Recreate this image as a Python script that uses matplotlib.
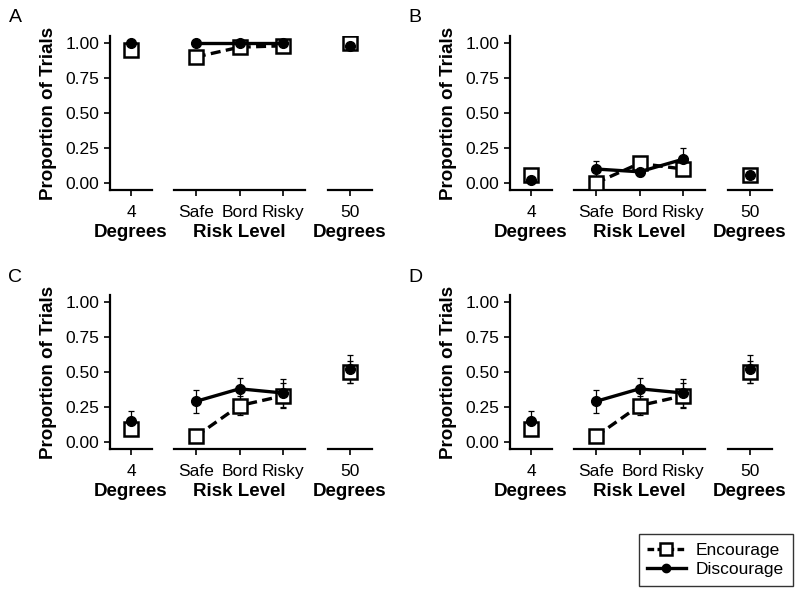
import numpy as np
import matplotlib
matplotlib.use("Agg")
import matplotlib.pyplot as plt
from matplotlib.lines import Line2D

plt.rcParams['font.family'] = ['Liberation Sans', 'DejaVu Sans']

panels = ['A', 'B', 'C', 'D']
risk_labels = ['Safe', 'Bord', 'Risky']

# values per panel: [4 deg, Safe, Bord, Risky, 50 deg]
enc_vals = {
    'A': [0.95, 0.90, 0.97, 0.98, 1.00],
    'B': [0.06, 0.00, 0.14, 0.10, 0.06],
    'C': [0.09, 0.04, 0.26, 0.33, 0.50],
    'D': [0.09, 0.04, 0.26, 0.33, 0.50],
}
enc_err = {
    'A': [0.02, 0.04, 0.02, 0.02, 0.01],
    'B': [0.03, 0.00, 0.03, 0.05, 0.02],
    'C': [0.04, 0.02, 0.07, 0.09, 0.08],
    'D': [0.04, 0.02, 0.07, 0.09, 0.08],
}
dis_vals = {
    'A': [1.00, 1.00, 1.00, 1.00, 0.98],
    'B': [0.02, 0.10, 0.08, 0.17, 0.06],
    'C': [0.15, 0.29, 0.38, 0.35, 0.52],
    'D': [0.15, 0.29, 0.38, 0.35, 0.52],
}
dis_err = {
    'A': [0.00, 0.00, 0.00, 0.00, 0.01],
    'B': [0.02, 0.06, 0.03, 0.08, 0.02],
    'C': [0.07, 0.08, 0.08, 0.10, 0.10],
    'D': [0.07, 0.08, 0.08, 0.10, 0.10],
}

W, H = 800, 593
fig = plt.figure(figsize=(8, 5.93), dpi=100)

def px_axes(x0, y0, w, h):
    return fig.add_axes([x0 / W, 1 - (y0 + h) / H, w / W, h / H])

origins = {'A': (110, 36), 'B': (510, 36), 'C': (110, 295), 'D': (510, 295)}
ax_h = 154
subs = [(0, 42), (64, 131), (218, 44)]  # offset, width in px

enc_style = dict(color='black', lw=2.4, ls=(0, (3, 1.6)), marker='s', ms=10,
                 mfc='white', mec='black', mew=1.8, zorder=3)
dis_style = dict(color='black', lw=2.4, ls='-', marker='o', ms=7,
                 mfc='black', mec='black', zorder=4)
err_kw = dict(fmt='none', ecolor='black', elinewidth=0.9, capsize=2, capthick=0.9)

for p in panels:
    ox, oy = origins[p]
    ev, ee = enc_vals[p], enc_err[p]
    dv, de = dis_vals[p], dis_err[p]
    for k, (off, w) in enumerate(subs):
        ax = px_axes(ox + off, oy, w, ax_h)
        ax.set_ylim(-0.05, 1.05)
        for s in ['top', 'right']:
            ax.spines[s].set_visible(False)
        ax.spines['bottom'].set_linewidth(1.6)
        ax.spines['left'].set_linewidth(1.6)
        ax.tick_params(length=4, width=1.2, labelsize=12.5, colors='black')
        ax.tick_params(axis='x', pad=7)
        if k == 1:
            xs = np.arange(3)
            ax.set_xlim(-0.5, 2.5)
            ax.errorbar(xs, ev[1:4], yerr=ee[1:4], **err_kw)
            ax.errorbar(xs, dv[1:4], yerr=de[1:4], **err_kw)
            ax.plot(xs, ev[1:4], **enc_style)
            ax.plot(xs, dv[1:4], **dis_style)
            ax.set_xticks(xs)
            ax.set_xticklabels(risk_labels)
            ax.set_xlabel('Risk Level', fontsize=13.5, fontweight='bold', labelpad=3)
        else:
            i = 0 if k == 0 else 4
            ax.set_xlim(-0.5, 0.5)
            ax.errorbar([0], [ev[i]], yerr=[ee[i]], **err_kw)
            ax.errorbar([0], [dv[i]], yerr=[de[i]], **err_kw)
            ax.plot([0], [ev[i]], **enc_style)
            ax.plot([0], [dv[i]], **dis_style)
            ax.set_xticks([0])
            ax.set_xticklabels(['4' if k == 0 else '50'])
            ax.set_xlabel('Degrees', fontsize=13.5, fontweight='bold', labelpad=3)
        if k == 0:
            ax.set_yticks([0, 0.25, 0.5, 0.75, 1.0])
            ax.set_yticklabels(['0.00', '0.25', '0.50', '0.75', '1.00'])
            ax.set_ylabel('Proportion of Trials', fontsize=13.5, fontweight='bold',
                          labelpad=6)
        else:
            ax.spines['left'].set_visible(False)
            ax.set_yticks([])
    fig.text((ox - 95) / W, 1 - (oy - 18) / H, p, fontsize=14, va='center', ha='center')

handles = [
    Line2D([], [], color='black', lw=2.4, ls=(0, (2, 1)), marker='s', ms=9,
           mfc='white', mec='black', mew=1.8),
    Line2D([], [], color='black', lw=2.4, ls='-', marker='o', ms=6, mfc='black'),
]
leg = fig.legend(handles, ['Encourage', 'Discourage'], loc='lower right',
                 bbox_to_anchor=(0.991, 0.012), borderaxespad=0, fontsize=12.5,
                 frameon=True, fancybox=False, edgecolor='black', handlelength=2.2,
                 borderpad=0.5, labelspacing=0.25, handletextpad=0.6)
leg.get_frame().set_linewidth(1.0)

fig.savefig('out.png', dpi=100)
